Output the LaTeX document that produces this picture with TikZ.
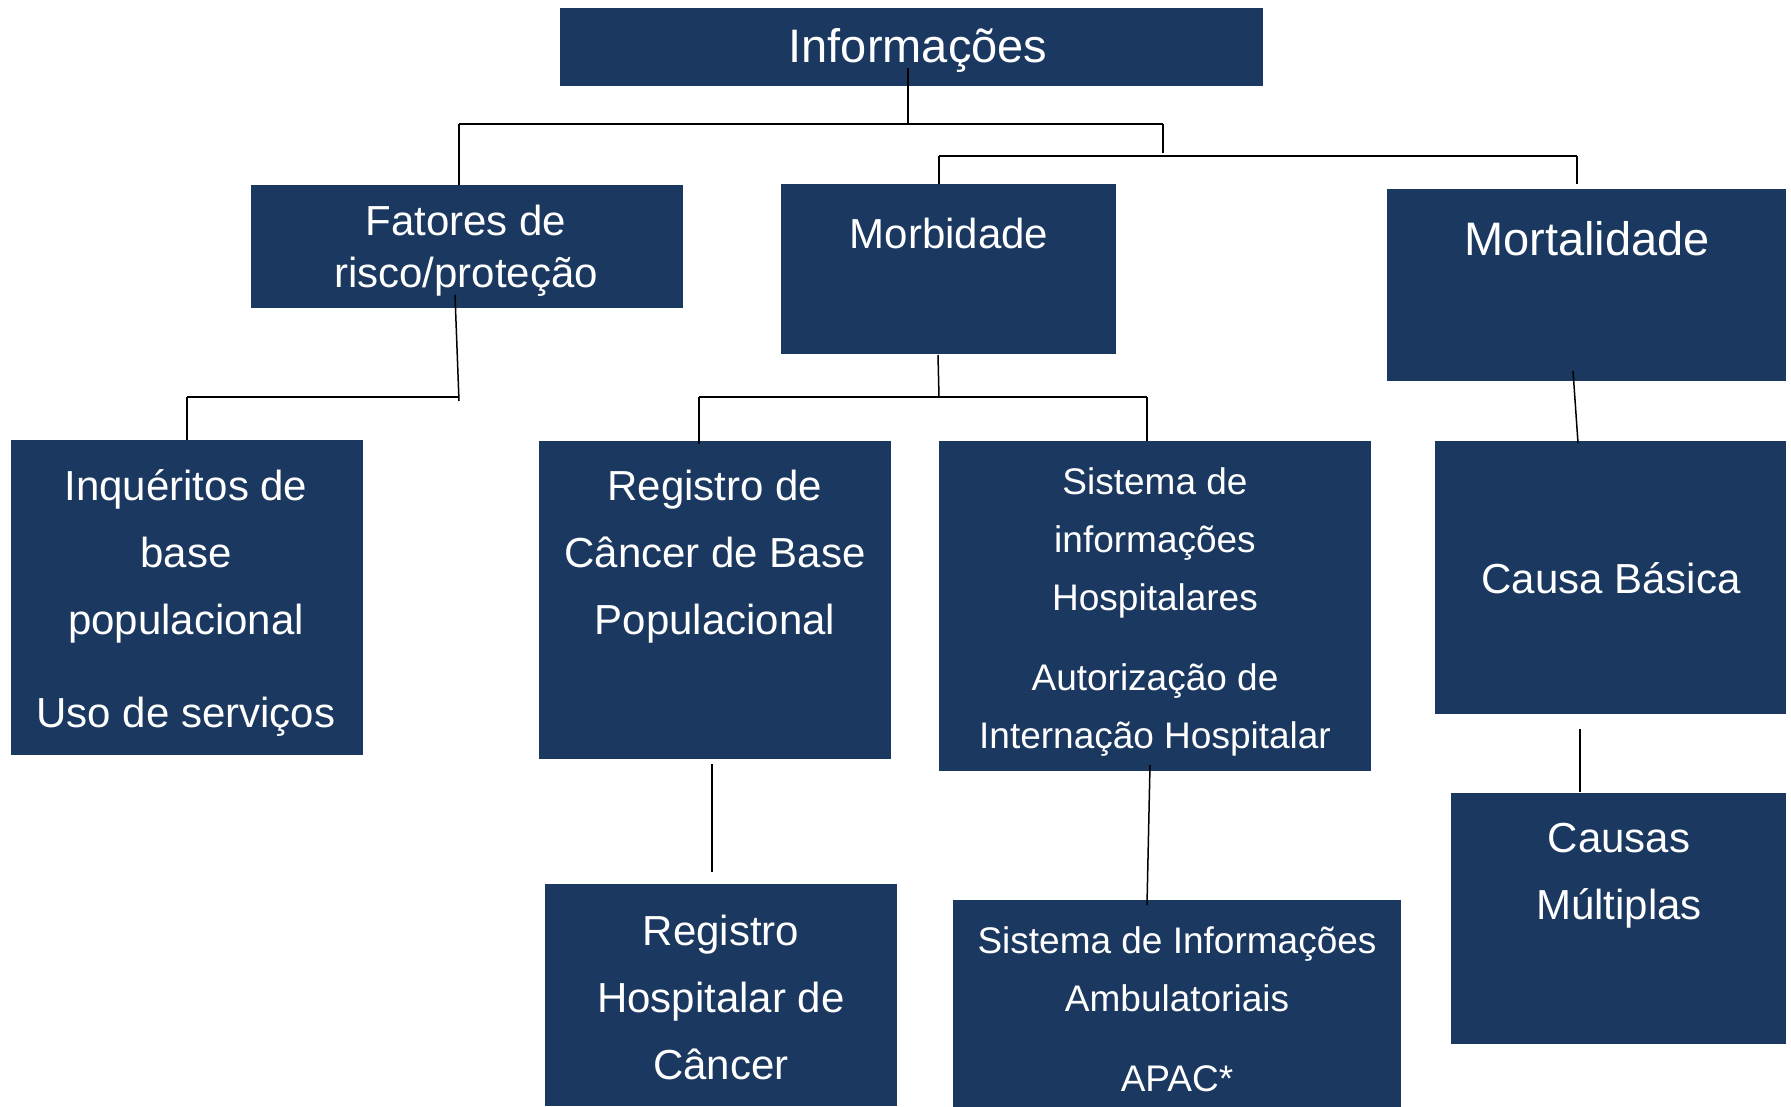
\documentclass[tikz,border=0pt]{standalone}
\usepackage{fontspec}
\setmainfont{Liberation Sans}
\definecolor{navy}{RGB}{27,56,96}
\tikzset{
  box/.style={fill=navy, draw=none, inner sep=0pt},
  txt/.style={text=white, align=center, inner sep=0pt},
  bus/.style={draw=black, line width=2.2pt},
  vline/.style={draw=black, line width=1.5pt},
}
\begin{document}
\begin{tikzpicture}[x=1pt,y=-1pt]
\useasboundingbox (0,0) rectangle (1791,1107);
% boxes
\node[box, minimum width=703, minimum height=78] (info) at (911.5,47) {};
\node[box, minimum width=432, minimum height=123] (fat) at (467,246.5) {};
\node[box, minimum width=335, minimum height=170] (morb) at (948.5,269) {};
\node[box, minimum width=399, minimum height=192] (mort) at (1586.5,285) {};
\node[box, minimum width=352, minimum height=315] (inq) at (187,597.5) {};
\node[box, minimum width=352, minimum height=318] (rcbp) at (715,600) {};
\node[box, minimum width=432, minimum height=330] (sih) at (1155,606) {};
\node[box, minimum width=351, minimum height=273] (cb) at (1610.5,577.5) {};
\node[box, minimum width=352, minimum height=222] (rhc) at (721,995) {};
\node[box, minimum width=448, minimum height=207] (sia) at (1177,1003.5) {};
\node[box, minimum width=335, minimum height=251] (cm) at (1618.5,918.5) {};
% texts
\node[txt, font=\fontsize{47}{56}\selectfont] (tinfo) at (918,50.5) {Informações};
\node[txt, font=\fontsize{42}{52}\selectfont] (tfat) at (466,250.5) {Fatores de\\risco/proteção};
\node[txt, font=\fontsize{42}{52}\selectfont] (tmorb) at (949,233) {Morbidade};
\node[txt, font=\fontsize{47}{56}\selectfont] (tmort) at (1587,239) {Mortalidade};
\node[txt, font=\fontsize{42}{67}\selectfont] (tinq) at (186,602.5) {Inquéritos de\\base\\populacional\\[26pt]Uso de serviços};
\node[txt, font=\fontsize{42}{67}\selectfont] (trcbp) at (715,556.5) {Registro de\\Câncer de Base\\Populacional};
\node[txt, font=\fontsize{37}{58}\selectfont] (tsih) at (1155,612.5) {Sistema de\\informações\\Hospitalares\\[22pt]Autorização de\\Internação Hospitalar};
\node[txt, font=\fontsize{42}{67}\selectfont] (tcb) at (1611,578) {Causa Básica};
\node[txt, font=\fontsize{42}{67}\selectfont] (trhc) at (721,997) {Registro\\Hospitalar de\\Câncer};
\node[txt, font=\fontsize{37}{58}\selectfont] (tsia) at (1177,1009) {Sistema de Informações\\Ambulatoriais\\[22pt]APAC*};
\node[txt, font=\fontsize{42}{67}\selectfont] (tcm) at (1619,876) {Causas\\Múltiplas};
% connector points
\coordinate (p1) at (908,68);
\coordinate (p1b) at (908,124);
\coordinate (b1l) at (459,124);
\coordinate (b1r) at (1163,124);
\coordinate (b1rd) at (1163,153);
\coordinate (fatin) at (459,185);
\coordinate (b2l) at (939,156);
\coordinate (b2r) at (1577,156);
\coordinate (morbin) at (939,184);
\coordinate (mortin) at (1577,184);
\coordinate (fatout) at (455,295);
\coordinate (b3r) at (459,401);
\coordinate (b3ry) at (459,397);
\coordinate (b3l) at (187,397);
\coordinate (inqin) at (187,440);
\coordinate (morbout) at (938,355);
\coordinate (b4m) at (939,397);
\coordinate (b4l) at (699,397);
\coordinate (b4r) at (1147,397);
\coordinate (rcbpin) at (699,444);
\coordinate (sihin) at (1147,441);
\coordinate (mortout) at (1573,371);
\coordinate (cbin) at (1578,443);
\coordinate (cbout) at (1580,729);
\coordinate (cmin) at (1580,792);
\coordinate (rcbpout) at (712,764);
\coordinate (rhcin) at (712,872);
\coordinate (sihout) at (1150,765);
\coordinate (siain) at (1147,905);
% connectors
\draw[vline] (p1) -- (p1b);
\draw[bus] (b1l) -- (b1r);
\draw[vline] (b1l) -- (fatin);
\draw[vline] (b1r) -- (b1rd);
\draw[bus] (b2l) -- (b2r);
\draw[vline] (b2l) -- (morbin);
\draw[vline] (b2r) -- (mortin);
\draw[vline] (fatout) -- (b3r);
\draw[bus] (b3l) -- (b3ry);
\draw[vline] (b3l) -- (inqin);
\draw[vline] (morbout) -- (b4m);
\draw[bus] (b4l) -- (b4r);
\draw[vline] (b4l) -- (rcbpin);
\draw[vline] (b4r) -- (sihin);
\draw[vline] (mortout) -- (cbin);
\draw[vline] (cbout) -- (cmin);
\draw[vline] (rcbpout) -- (rhcin);
\draw[vline] (sihout) -- (siain);
\end{tikzpicture}
\end{document}
